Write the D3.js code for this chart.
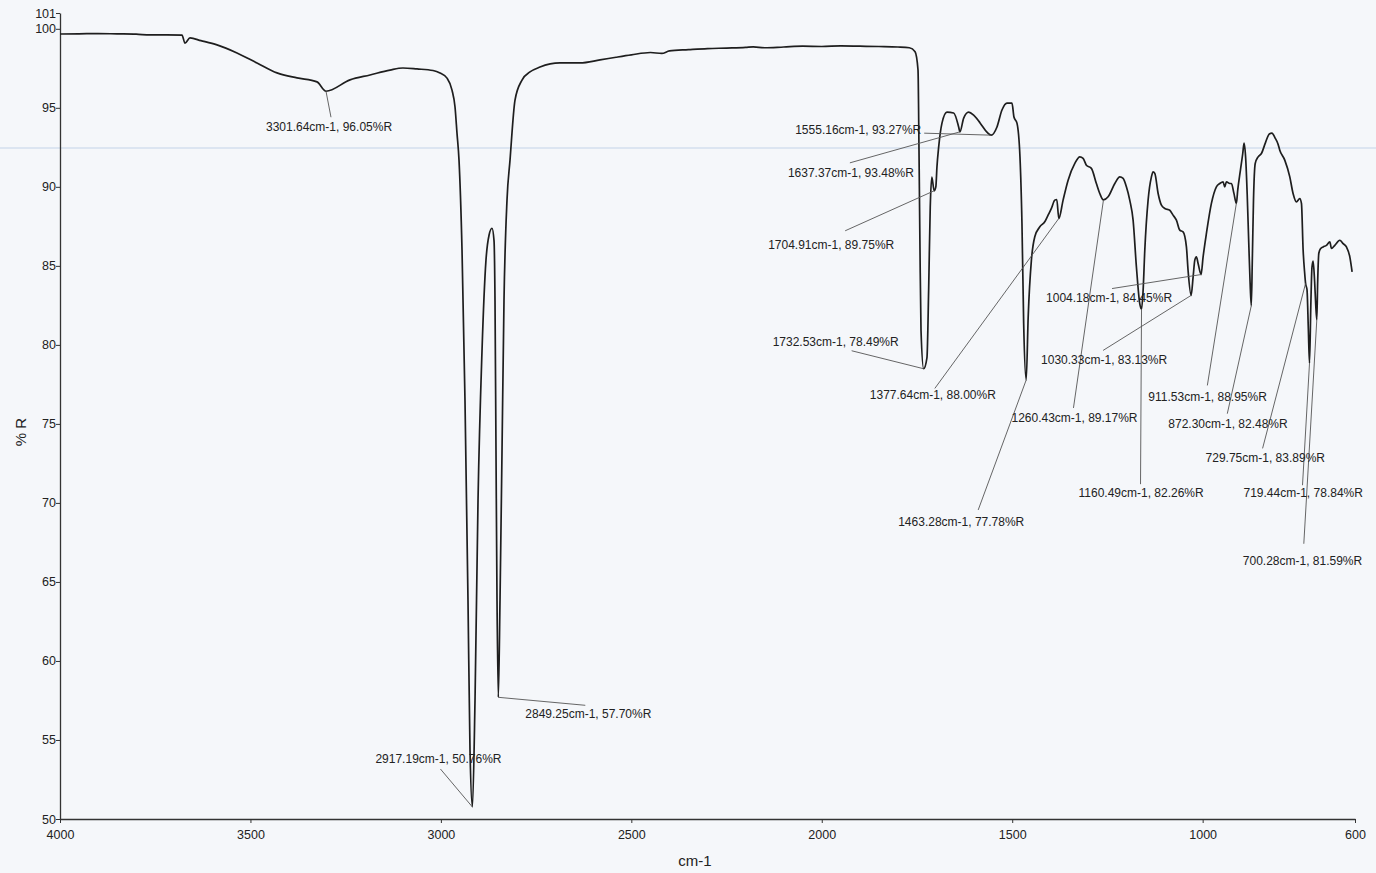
<!DOCTYPE html>
<html>
<head>
<meta charset="utf-8">
<script src="https://cdn.jsdelivr.net/npm/d3@7"></script>
<style>
  body { margin: 0; background: #f5f7fa; }
  svg { display: block; font-family: "Liberation Sans", Arial, sans-serif; }
</style>
</head>
<body>
<svg id="chart" width="1376" height="873"></svg>
<script>
// IR reflectance spectrum: wavenumber (cm-1) and reflectance (%R)
const wavenumbers = [
  4000, 3950, 3900, 3850, 3800, 3763.7, 3720, 3679.7, 3671.8, 3658.7, 3630, 3587.8, 3535.3,
  3482.8, 3430.3, 3377.8, 3325.2, 3301.64, 3238.6, 3186.1, 3133.6, 3099.5, 3062.7, 3020.7,
  3002.3, 2983.9, 2970.8, 2962.9, 2957.7, 2952.4, 2944.5, 2936.7, 2928.8, 2923.5, 2917.19,
  2910.4, 2902.5, 2892.0, 2881.6, 2873.6, 2865.8, 2860.5, 2857.9, 2855.3, 2852.6, 2849.25,
  2844.8, 2839.5, 2834.3, 2826.4, 2818.5, 2805.4, 2787.0, 2766.0, 2739.8, 2687.3, 2634.8,
  2582.2, 2540, 2500, 2450, 2420, 2400, 2350, 2300, 2250, 2200, 2180, 2150, 2100, 2050, 2000,
  1950, 1900, 1850, 1800, 1770, 1755, 1747.3, 1744.7, 1742.1, 1739.4, 1732.53, 1723.8, 1719.4,
  1715.2, 1711, 1704.91, 1700.5, 1697.6, 1693.1, 1684.4, 1671.3, 1653.7, 1640.6, 1637.37,
  1627.4, 1614.3, 1601.2, 1583.9, 1566.3, 1555.16, 1540.0, 1526.9, 1513.7, 1500.6, 1495.4,
  1487.5, 1479.6, 1474.4, 1469.9, 1463.28, 1458, 1449.6, 1440.7, 1427.5, 1414.5, 1405.8,
  1397.1, 1388.2, 1383.0, 1377.64, 1366.4, 1353.2, 1335.6, 1322.5, 1313.9, 1305.2, 1292.1,
  1279.0, 1270.1, 1260.43, 1248.2, 1230.6, 1217.5, 1208.8, 1200.2, 1191.4, 1182.6, 1173.9,
  1165.1, 1160.49, 1156.3, 1151.9, 1143.2, 1134.5, 1130.1, 1125.6, 1116.9, 1108.2, 1099.4,
  1086.3, 1077.7, 1068.9, 1060.1, 1051.4, 1042.6, 1038.3, 1030.33, 1025.0, 1020.6, 1016.4,
  1011.9, 1004.18, 998.8, 990.1, 977.0, 963.9, 955.0, 946.4, 942.0, 937.6, 928.8, 924.4, 918,
  911.53, 907.9, 900.8, 894.7, 891.3, 887, 883, 879, 875.5, 872.30, 869.5, 866.5, 862, 854.4,
  845.7, 835, 825, 818, 810, 802, 797.5, 784.4, 771.2, 762.6, 753.8, 745.0, 740.6, 736.2, 732,
  729.75, 726, 722.5, 719.44, 716, 713, 710, 706, 703, 700.28, 698, 695, 690, 683.8, 675.0,
  666.1, 661.8, 653.0, 639.9, 631.2, 622.5, 613.6, 607.6
];
const reflectance = [
  99.67, 99.68, 99.70, 99.68, 99.66, 99.61, 99.62, 99.60, 99.09, 99.42, 99.25, 98.98, 98.47,
  97.84, 97.21, 96.89, 96.64, 96.05, 96.77, 97.08, 97.39, 97.52, 97.46, 97.36,
  97.20, 96.88, 96.12, 95.05, 93.40, 91.69, 86.00, 76.48, 63.81, 54.31, 50.76,
  57.48, 70.15, 79.65, 85.36, 86.94, 87.38, 86.60, 82.80, 73.30, 63.80, 57.70,
  63.80, 73.30, 82.80, 89.16, 91.69, 95.49, 96.76, 97.27, 97.58, 97.84, 97.84,
  98.03, 98.20, 98.35, 98.50, 98.44, 98.60, 98.68, 98.75, 98.78, 98.82, 98.86, 98.80, 98.85, 98.90, 98.88,
  98.92, 98.90, 98.88, 98.85, 98.80, 98.55, 97.39, 92.30, 86.00, 80.90, 78.49, 79.20, 83.45,
  88.71, 90.61, 89.75, 90.00, 91.25, 92.51, 94.03, 94.73, 94.67, 93.79, 93.48,
  94.35, 94.73, 94.54, 94.03, 93.46, 93.27, 93.79, 94.86, 95.30, 95.30, 94.42,
  94.03, 91.88, 87.70, 81.36, 77.78, 81.80, 85.36, 86.84, 87.47, 87.79, 88.21,
  88.64, 89.16, 89.20, 88.00, 89.16, 90.42, 91.48, 91.90, 91.80, 91.37, 91.17,
  90.21, 89.58, 89.17, 89.37, 90.21, 90.63, 90.53, 90.00, 89.16, 87.89, 84.93,
  82.61, 82.26, 83.45, 85.99, 89.16, 90.63, 90.95, 90.85, 89.58, 88.84, 88.63,
  88.52, 88.21, 87.89, 87.26, 87.15, 86.20, 84.72, 83.13, 84.30, 85.36, 85.57,
  85.15, 84.45, 85.57, 87.05, 88.95, 90.00, 90.21, 90.32, 90.00, 90.32, 90.21, 90.21, 89.60,
  88.95, 89.79, 91.06, 92.11, 92.77, 91.80, 89.50, 86.50, 84.00, 82.48, 85.50, 89.16, 91.48, 91.90,
  92.11, 92.80, 93.35, 93.40, 93.10, 92.70, 92.32, 91.69, 90.63, 89.58, 89.05, 89.26, 88.95, 86.00, 84.50,
  83.89, 83.50, 81.00, 78.84, 82.50, 84.90, 85.30, 84.00, 82.50, 81.59, 84.00, 85.80, 86.10, 86.20, 86.30,
  86.52, 86.10, 86.30, 86.62, 86.41, 86.20, 85.57, 84.62
];

// Picked peaks
const peakWavenumbers = [3301.64, 2917.19, 2849.25, 1732.53, 1704.91, 1637.37, 1555.16, 1463.28,
  1377.64, 1260.43, 1160.49, 1030.33, 1004.18, 911.53, 872.30, 729.75, 719.44, 700.28];
const peakReflectance = [96.05, 50.76, 57.70, 78.49, 89.75, 93.48, 93.27, 77.78,
  88.00, 89.17, 82.26, 83.13, 84.45, 88.95, 82.48, 83.89, 78.84, 81.59];

const xTicks = [4000, 3500, 3000, 2500, 2000, 1500, 1000, 600];
const yTicks = [50, 55, 60, 65, 70, 75, 80, 85, 90, 95, 100, 101];

// Label placement for each peak: [text dx, text dy, leader end dx, leader end dy] from the peak point
const labelOffsets = [
  [-60, 40, 5, 26], [-97, -44, -32, -38], [27, 21, 87, 8], [-151, -23, -72, -18],
  [-166, 58, -89, 40], [-172, 45, -110, 31], [-196, -1, -67, -2], [-128, 146, -48, 130],
  [-189, 181, -124, 170], [-92, 222, -30, 208], [-63, 188, -1, 175], [-150, 69, -88, 55],
  [-155, 27, -89, 14], [-88, 198, -29, 182], [-83, 122, -24, 108], [-100, 179, -43, 165],
  [-66, 134, -7, 122], [-74, 245, -13, 224]
];

const svg = d3.select("#chart");
const x = d3.scaleLinear().domain([4000, 600]).range([60, 1355]);
const y = d3.scaleLinear().domain([50, 101]).range([819, 13]);

// faint horizontal streak across the sheet
svg.append("rect").attr("x", 0).attr("y", 147).attr("width", 1376).attr("height", 2)
  .attr("fill", "#dce5f1");

// axes
const xAxis = svg.append("g").attr("transform", `translate(0,${y(50)})`)
  .call(d3.axisBottom(x).tickValues(xTicks).tickSize(4).tickSizeOuter(0).tickFormat(d3.format("d")));
const yAxis = svg.append("g").attr("transform", `translate(${x(4000)},0)`)
  .call(d3.axisLeft(y).tickValues(yTicks).tickSize(4).tickSizeOuter(0).tickFormat(d3.format("d")));
[xAxis, yAxis].forEach(g => {
  g.select(".domain").attr("stroke", "#333").attr("stroke-width", 1.3);
  g.selectAll(".tick line").attr("stroke", "#333").attr("stroke-width", 1);
  g.selectAll(".tick text").attr("fill", "#222").attr("font-size", 12.5)
    .attr("font-family", "'Liberation Sans', Arial, sans-serif");
});
xAxis.selectAll(".tick text").attr("dy", "1.05em");
yAxis.selectAll(".tick text").attr("x", -4);

// axis titles
svg.append("text").attr("x", 695).attr("y", 866).attr("text-anchor", "middle")
  .attr("font-size", 15).attr("fill", "#222").text("cm-1");
svg.append("text").attr("transform", "translate(26,432) rotate(-90)").attr("text-anchor", "middle")
  .attr("font-size", 15).attr("fill", "#222").text("% R");

// spectrum
const points = wavenumbers.map((w, i) => [w, reflectance[i]]);
svg.append("path").datum(points)
  .attr("fill", "none").attr("stroke", "#1e1e1e").attr("stroke-width", 1.7)
  .attr("stroke-linejoin", "round")
  .attr("d", d3.line().x(d => x(d[0])).y(d => y(d[1])).curve(d3.curveMonotoneX));

// peak annotations
const peaks = peakWavenumbers.map((w, i) => ({ w, r: peakReflectance[i], o: labelOffsets[i] }));
const ann = svg.append("g");
ann.selectAll("line").data(peaks).join("line")
  .attr("x1", d => x(d.w)).attr("y1", d => y(d.r))
  .attr("x2", d => x(d.w) + d.o[2]).attr("y2", d => y(d.r) + d.o[3])
  .attr("stroke", "#555").attr("stroke-width", 0.9);
ann.selectAll("text").data(peaks).join("text")
  .attr("x", d => x(d.w) + d.o[0]).attr("y", d => y(d.r) + d.o[1])
  .attr("font-size", 12).attr("fill", "#222")
  .text(d => `${d.w.toFixed(2)}cm-1, ${d.r.toFixed(2)}%R`);
</script>
</body>
</html>
